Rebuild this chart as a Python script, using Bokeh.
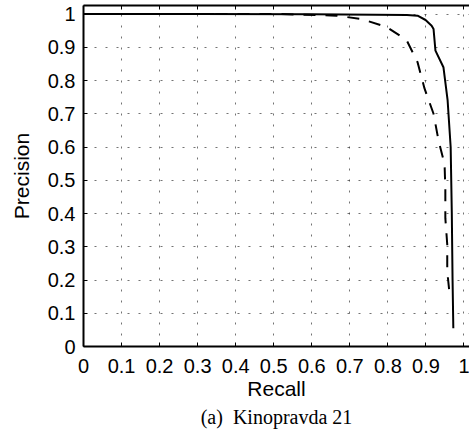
from bokeh.plotting import figure
from bokeh.models import Range1d, FixedTicker, LinearAxis, Title
from bokeh.embed import file_html
from bokeh.resources import INLINE

# ---- data ----
tick_values = [0, 0.1, 0.2, 0.3, 0.4, 0.5, 0.6, 0.7, 0.8, 0.9, 1]
tick_labels = ["0", "0.1", "0.2", "0.3", "0.4", "0.5", "0.6", "0.7", "0.8", "0.9", "1"]

solid_recall = [0.0, 0.30, 0.60, 0.85, 0.878, 0.899, 0.915, 0.920, 0.925, 0.946, 0.957, 0.965, 0.968, 0.970, 0.972]
solid_precision = [1.0, 1.0, 0.999, 0.997, 0.995, 0.982, 0.965, 0.955, 0.89, 0.84, 0.74, 0.60, 0.40, 0.20, 0.055]

dashed_recall = [0.0, 0.52, 0.665, 0.73, 0.796, 0.849, 0.878, 0.896, 0.92, 0.933, 0.949, 0.951, 0.951, 0.956, 0.956, 0.962]
dashed_precision = [1.0, 1.0, 0.995, 0.985, 0.961, 0.922, 0.855, 0.777, 0.70, 0.62, 0.548, 0.473, 0.386, 0.307, 0.226, 0.16]

x_label = "Recall"
y_label = "Precision"
caption = "(a)\u00a0 Kinopravda 21"

# ---- figure ----
p = figure(width=469, height=429,
           x_range=Range1d(0, 1.0145), y_range=Range1d(0, 1.0256),
           output_backend="svg", toolbar_location=None,
           min_border_left=83, min_border_right=0, min_border_top=5, min_border_bottom=83,
           outline_line_color=None, background_fill_color="white", border_fill_color="white")

p.line(solid_recall, solid_precision, line_color="black", line_width=2)
p.line(dashed_recall, dashed_precision, line_color="black", line_width=2, line_dash="12 10")

overrides = {v: s for v, s in zip(tick_values, tick_labels)}


def style_axis(ax):
    ax.ticker = FixedTicker(ticks=tick_values, minor_ticks=[])
    ax.major_label_overrides = overrides
    ax.axis_line_color = "black"
    ax.axis_line_width = 2
    ax.major_tick_in = 4
    ax.major_tick_out = 0
    ax.major_tick_line_color = "black"
    ax.major_tick_line_width = 1
    ax.minor_tick_line_color = None
    ax.major_label_text_font = "Liberation Sans"
    ax.major_label_text_font_size = "20px"
    ax.major_label_text_color = "black"
    ax.axis_label_text_font = "Liberation Sans"
    ax.axis_label_text_font_size = "21px"
    ax.axis_label_text_font_style = "normal"
    ax.axis_label_text_color = "black"


for ax in p.xaxis:
    style_axis(ax)
    ax.axis_label = x_label
    ax.major_label_standoff = 12
    ax.axis_label_standoff = 1

for ax in p.yaxis:
    style_axis(ax)
    ax.axis_label = y_label
    ax.major_label_standoff = 8
    ax.axis_label_standoff = 12

top = LinearAxis()
style_axis(top)
top.major_label_overrides = {v: "" for v in tick_values}
top.major_label_text_font_size = "0px"
top.major_label_standoff = 0
p.add_layout(top, "above")

p.xgrid.ticker = FixedTicker(ticks=tick_values, minor_ticks=[])
p.ygrid.ticker = FixedTicker(ticks=tick_values, minor_ticks=[])
p.grid.grid_line_color = "black"
p.grid.grid_line_alpha = 0.55
p.grid.grid_line_width = 1
p.grid.grid_line_dash = "2 9"

p.add_layout(Title(text=caption, align="center", text_font="Liberation Serif",
                   text_font_size="20px", text_font_style="normal",
                   text_color="black", standoff=2), "below")

open("out.html", "w").write(file_html(p, INLINE))
